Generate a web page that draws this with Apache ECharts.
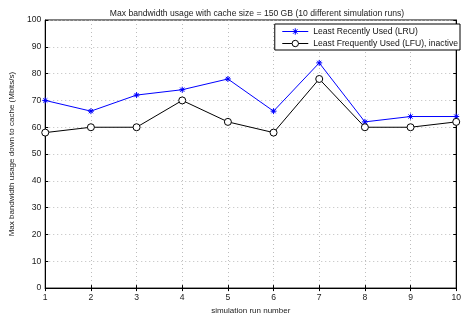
<!DOCTYPE html>
<html><head><meta charset="utf-8">
<script src="https://cdn.jsdelivr.net/npm/echarts@6/dist/echarts.min.js"></script>
<style>html,body{margin:0;padding:0;background:#fff}#c{width:464px;height:320px}</style>
</head><body><div id="c"></div>
<script>
var runs = [1, 2, 3, 4, 5, 6, 7, 8, 9, 10];
var lru = [70, 66, 72, 74, 78, 66, 84, 62, 64, 64];
var lfu = [58, 60, 60, 70, 62, 58, 78, 60, 60, 62];
var lruName = 'Least Recently Used (LRU)';
var lfuName = 'Least Frequently Used (LFU), inactive';
var titleText = 'Max bandwidth usage with cache size = 150 GB (10 different simulation runs)';
var xName = 'simulation run number';
var yName = 'Max bandwidth usage down to cache (Mbits/s)';

function pairs(v){ return runs.map(function(r,i){ return [r, v[i]]; }); }
var font = 'Liberation Sans, Arial, sans-serif';
var star = 'path://M0,-10L0,10M-10,0L10,0M-7,-7L7,7M-7,7L7,-7M0,-3L3,0L0,3L-3,0Z';
var chart = echarts.init(document.getElementById('c'), null, {renderer:'canvas'});
var gridLines = {show:true, lineStyle:{color:'#bdbdbd', type:[1,3], width:1}};
chart.setOption({
  animation:false,
  backgroundColor:'#fff',
  textStyle:{fontFamily:font},
  title:{text:titleText, left:252, textAlign:'center', top:4, textStyle:{fontSize:8.6, fontWeight:'normal', color:'#222', fontFamily:font}},
  grid:{left:45, right:4, top:20, bottom:26, show:true, borderColor:'#000', borderWidth:1},
  legend:{
    orient:'vertical', right:4, top:24, backgroundColor:'#fff', borderColor:'#000', borderWidth:1,
    padding:[3,2,2,7], itemGap:3, itemWidth:26, itemHeight:8,
    textStyle:{fontSize:8.6, color:'#111', fontFamily:font},
    lineStyle:{width:1},
    itemStyle:{borderWidth:1},
    data:[lruName, lfuName]
  },
  xAxis:[{
    type:'value', min:1, max:10, interval:1, position:'bottom',
    name:xName, nameLocation:'middle', nameGap:18,
    nameTextStyle:{fontSize:8, color:'#222'},
    axisLine:{lineStyle:{color:'#000'}}, axisTick:{inside:true, length:3, lineStyle:{color:'#000'}},
    axisLabel:{fontSize:8.6, color:'#222', margin:5},
    splitLine:gridLines
  },{
    type:'value', min:1, max:10, interval:1, position:'top',
    axisLine:{show:true, lineStyle:{color:'#000'}}, axisTick:{inside:true, length:3, lineStyle:{color:'#000'}},
    axisLabel:{show:false}, splitLine:{show:false}
  }],
  yAxis:[{
    type:'value', min:0, max:100, interval:10, position:'left',
    name:yName, nameLocation:'middle', nameGap:24,
    nameTextStyle:{fontSize:8, color:'#222'},
    axisLine:{lineStyle:{color:'#000'}}, axisTick:{inside:true, length:3, lineStyle:{color:'#000'}},
    axisLabel:{fontSize:8.6, color:'#222', margin:4},
    splitLine:gridLines
  },{
    type:'value', min:0, max:100, interval:10, position:'right',
    axisLine:{show:true, lineStyle:{color:'#000'}}, axisTick:{inside:true, length:3, lineStyle:{color:'#000'}},
    axisLabel:{show:false}, splitLine:{show:false}
  }],
  series:[{
    name:lruName, type:'line', data:pairs(lru), color:'#0000ff',
    symbol:star, symbolSize:6,
    lineStyle:{color:'#0000ff', width:1},
    itemStyle:{color:'#0000ff', borderColor:'#0000ff', borderWidth:1}
  },{
    name:lfuName, type:'line', data:pairs(lfu), color:'#000',
    symbol:'circle', symbolSize:7,
    lineStyle:{color:'#000', width:1},
    itemStyle:{color:'#fff', borderColor:'#000', borderWidth:1}
  }]
});
</script></body></html>
